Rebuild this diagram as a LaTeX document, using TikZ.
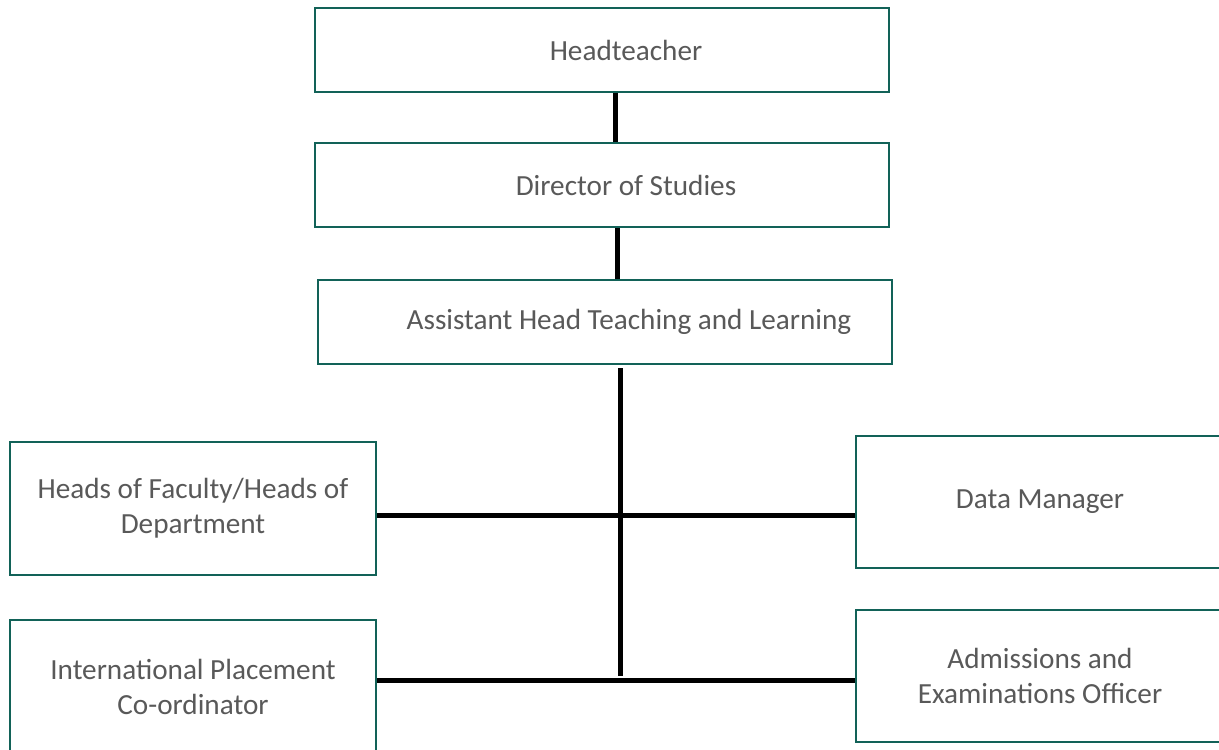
\documentclass[tikz,border=0pt]{standalone}
\usepackage{fontspec}
\setmainfont{Carlito}
\definecolor{boxline}{RGB}{18,98,88}
\definecolor{boxtext}{RGB}{89,89,89}

\begin{document}
\begin{tikzpicture}[x=0.5pt,y=-0.5pt,
    box/.style={draw=boxline, line width=1pt, fill=white, text=boxtext,
        font=\fontsize{14.6}{17.5}\selectfont, align=center, inner sep=0pt},
    wide/.style={box, minimum width=287pt, minimum height=42pt},
    side/.style={box, minimum width=184pt, minimum height=66pt},
    link/.style={black, line width=2.5pt}]
    \useasboundingbox (0,0) rectangle (1219,749);
    \clip (0,0) rectangle (1219,749);

    % leadership chain
    \node[wide] (head) at (602,50)  {\hspace*{24pt}Headteacher};
    \node[wide] (dir)  at (602,185) {\hspace*{24pt}Director of Studies};
    \node[wide] (ahtl) at (605,322) {\hspace*{24pt}Assistant Head Teaching and Learning};

    % roles reporting to the assistant head
    \node[side, minimum width=183pt, minimum height=66.5pt] (hof) at (193,508.5) {Heads of Faculty/Heads of\\Department};
    \node[side] (dm)   at (1040,502) {Data Manager};
    \node[side, minimum width=183pt, minimum height=67pt] (ipc) at (193,686.5) {International Placement\\Co-ordinator};
    \node[side] (aeo)  at (1040,676) {Admissions and\\Examinations Officer};

    \coordinate (j1) at (620,515);
    \coordinate (j2) at (620,680);

    \draw[link] ([xshift=6.5pt]head.south) -- ([xshift=6.5pt]dir.north);
    \draw[link] ([xshift=7.5pt]dir.south) -- ([xshift=6pt]ahtl.north);
    \draw[link] ([xshift=7.5pt,yshift=-1.5pt]ahtl.south) -- ([yshift=2pt]j2);
    \draw[link] (hof.east |- j1) -- (dm.west |- j1);
    \draw[link] (ipc.east |- j2) -- (aeo.west |- j2);
\end{tikzpicture}
\end{document}
